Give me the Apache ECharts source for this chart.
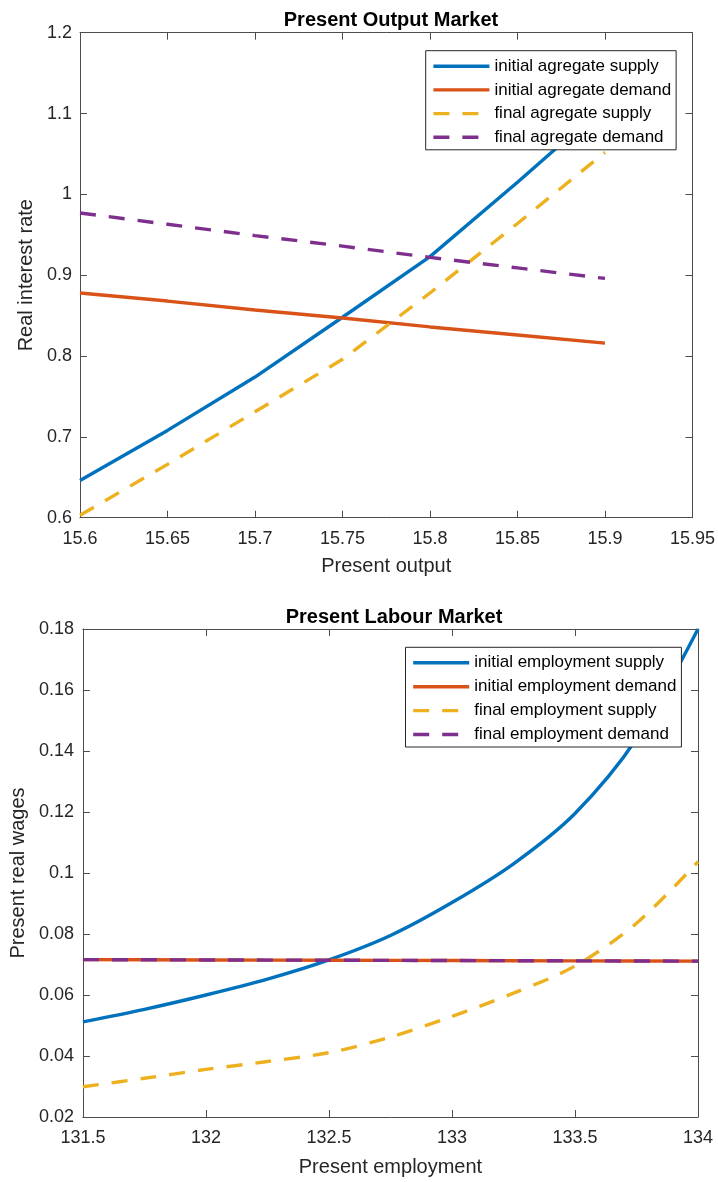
<!DOCTYPE html>
<html>
<head>
<meta charset="utf-8">
<script src="https://cdn.jsdelivr.net/npm/echarts@6/dist/echarts.min.js"></script>
<style>
html,body{margin:0;padding:0;background:#fff;}
#chart{width:718px;height:1182px;}
</style>
</head>
<body>
<div id="chart"></div>
<script>
// ---- Present Output Market ----
const outX = [15.6, 15.65, 15.7, 15.75, 15.8, 15.85, 15.9];
const outInitSupply = [0.646, 0.708, 0.774, 0.848, 0.923, 1.015, 1.11];
const outInitDemand = [0.878, 0.868, 0.857, 0.847, 0.836, 0.826, 0.816];
const outFinalSupply = [0.603, 0.666, 0.731, 0.796, 0.878, 0.964, 1.052];
const outFinalDemand = [0.977, 0.963, 0.949, 0.936, 0.922, 0.909, 0.896];
const outNames = ['initial agregate supply', 'initial agregate demand', 'final agregate supply', 'final agregate demand'];

// ---- Present Labour Market ----
const empX = [131.5, 131.75, 132, 132.25, 132.5, 132.75, 133, 133.25, 133.5, 133.75, 134];
const empInitSupply = [0.0512, 0.0553, 0.0600, 0.0652, 0.0715, 0.0795, 0.0903, 0.1030, 0.1195, 0.1440, 0.1800];
const empInitDemand = [0.0716, 0.07155, 0.0715, 0.07145, 0.0714, 0.07135, 0.0713, 0.07125, 0.0712, 0.07115, 0.0711];
const empFinalSupply = [0.0299, 0.0327, 0.0356, 0.0382, 0.0411, 0.0462, 0.0530, 0.0606, 0.0695, 0.0835, 0.1037];
const empFinalDemand = [0.0716, 0.07155, 0.0715, 0.07145, 0.0714, 0.07135, 0.0713, 0.07125, 0.0712, 0.07115, 0.0711];
const empNames = ['initial employment supply', 'initial employment demand', 'final employment supply', 'final employment demand'];

const titles = ['Present Output Market', 'Present Labour Market'];
const xNames = ['Present output', 'Present employment'];
const yNames = ['Real interest rate', 'Present real wages'];

const colors = ['#0072BD', '#D95319', '#EDB120', '#7E2F8E'];
const FONT = '"Liberation Sans", Arial, sans-serif';
const AX = '#4d4d4d';
const TXT = '#262626';
const DASH = [16, 13];
const LW = 3.4;

function pairs(xs, ys) { return xs.map((x, i) => [x, ys[i]]); }
function fmt(v) { return String(+v.toFixed(4)); }

function axisPair(gridIndex, min, max, interval, name, nameGap, isX, labelMargin) {
  const main = {
    type: 'value', gridIndex, min, max, interval,
    name, nameLocation: 'middle', nameGap,
    nameTextStyle: { fontFamily: FONT, fontSize: 20, color: TXT },
    axisLine: { show: true, onZero: false, lineStyle: { color: AX, width: 1 } },
    axisTick: { show: true, inside: true, length: 7, lineStyle: { color: AX } },
    axisLabel: { fontFamily: FONT, fontSize: 18, color: TXT, margin: labelMargin, formatter: fmt },
    splitLine: { show: false }
  };
  const opp = {
    type: 'value', gridIndex, min, max, interval,
    position: isX ? 'top' : 'right',
    axisLine: { show: true, onZero: false, lineStyle: { color: AX, width: 1 } },
    axisTick: { show: true, inside: true, length: 7, lineStyle: { color: AX } },
    axisLabel: { show: false },
    splitLine: { show: false }
  };
  main.position = isX ? 'bottom' : 'left';
  return [main, opp];
}

const chart = echarts.init(document.getElementById('chart'), null, { renderer: 'canvas' });

const xAxes = [
  ...axisPair(0, 15.6, 15.95, 0.05, xNames[0], 39, true, 12),
  ...axisPair(1, 131.5, 134, 0.5, xNames[1], 40, true, 12)
];
const yAxes = [
  ...axisPair(0, 0.6, 1.2, 0.1, yNames[0], 43, false, 8),
  ...axisPair(1, 0.02, 0.18, 0.02, yNames[1], 54, false, 9)
];

function mkSeries(name, xs, ys, ci, dashed, xi, yi, smooth, z) {
  return {
    type: 'line', name, data: pairs(xs, ys),
    xAxisIndex: xi, yAxisIndex: yi,
    symbol: 'none', smooth: smooth,
    z: z,
    lineStyle: { color: colors[ci], width: LW, type: dashed ? DASH : 'solid', cap: 'butt' },
    itemStyle: { color: colors[ci] },
    emphasis: { disabled: true },
    animation: false
  };
}

const series = [
  mkSeries(outNames[0], outX, outInitSupply, 0, false, 0, 0, false, 2),
  mkSeries(outNames[1], outX, outInitDemand, 1, false, 0, 0, false, 2),
  mkSeries(outNames[2], outX, outFinalSupply, 2, true, 0, 0, false, 3),
  mkSeries(outNames[3], outX, outFinalDemand, 3, true, 0, 0, false, 3),
  mkSeries(empNames[0], empX, empInitSupply, 0, false, 2, 2, 0.3, 2),
  mkSeries(empNames[1], empX, empInitDemand, 1, false, 2, 2, false, 2),
  mkSeries(empNames[2], empX, empFinalSupply, 2, true, 2, 2, 0.3, 3),
  mkSeries(empNames[3], empX, empFinalDemand, 3, true, 2, 2, false, 3)
];

function legend(names, left, top, gap) {
  return {
    data: names, left, top, orient: 'vertical',
    itemWidth: 56, itemHeight: 14, itemGap: gap,
    padding: [7, 5, 4, 6],
    borderColor: '#262626', borderWidth: 1, backgroundColor: '#fff',
    borderRadius: 0,
    selectedMode: false,
    itemStyle: { color: 'rgba(0,0,0,0)', borderWidth: 0, opacity: 0 },
    lineStyle: { width: LW },
    textStyle: { fontFamily: FONT, fontSize: 17, color: '#000' },
    z: 10
  };
}

chart.setOption({
  backgroundColor: '#fff',
  animation: false,
  title: [
    { text: titles[0], left: 386, top: 5, textAlign: 'center',
      textStyle: { fontFamily: FONT, fontSize: 20, fontWeight: 'bold', color: '#000' } },
    { text: titles[1], left: 389, top: 602, textAlign: 'center',
      textStyle: { fontFamily: FONT, fontSize: 20, fontWeight: 'bold', color: '#000' } }
  ],
  grid: [
    { left: 80, top: 32.7, width: 612.5, height: 485, show: false },
    { left: 81, top: 629, width: 617, height: 488, show: false }
  ],
  legend: [legend(outNames, 425.7, 50.7, 6.7), legend(empNames, 405.5, 647.3, 6.9)],
  xAxis: xAxes,
  yAxis: yAxes,
  series
});
</script>
</body>
</html>
